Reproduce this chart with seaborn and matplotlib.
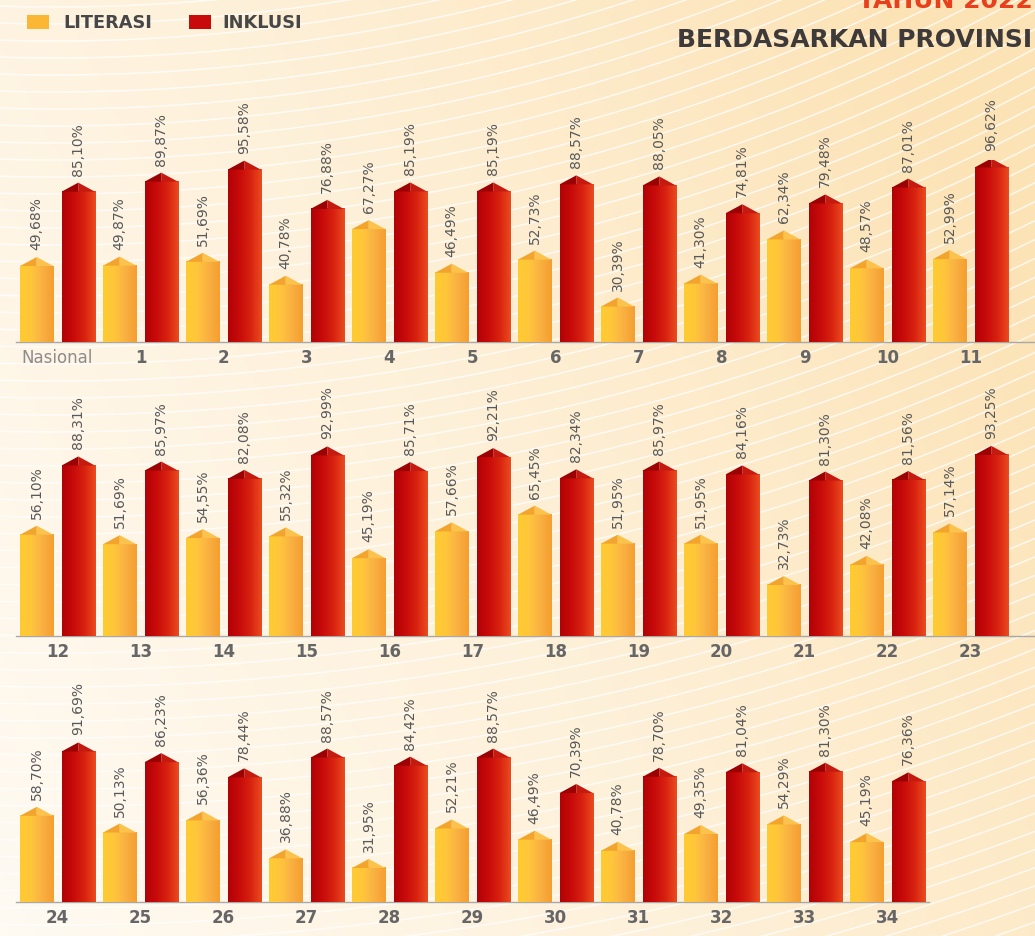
import numpy as np
import pandas as pd
import matplotlib
matplotlib.use('Agg')
import matplotlib.pyplot as plt
from matplotlib.colors import LinearSegmentedColormap
from matplotlib.patches import Polygon, Rectangle
import seaborn as sns

# data: literasi & inklusi keuangan per provinsi (Nasional + 34 provinsi)
provinsi = ['Nasional'] + [str(i) for i in range(1, 35)]
literasi = [49.68, 49.87, 51.69, 40.78, 67.27, 46.49, 52.73, 30.39, 41.30, 62.34, 48.57, 52.99,
            56.10, 51.69, 54.55, 55.32, 45.19, 57.66, 65.45, 51.95, 51.95, 32.73, 42.08, 57.14,
            58.70, 50.13, 56.36, 36.88, 31.95, 52.21, 46.49, 40.78, 49.35, 54.29, 45.19]
inklusi = [85.10, 89.87, 95.58, 76.88, 85.19, 85.19, 88.57, 88.05, 74.81, 79.48, 87.01, 96.62,
           88.31, 85.97, 82.08, 92.99, 85.71, 92.21, 82.34, 85.97, 84.16, 81.30, 81.56, 93.25,
           91.69, 86.23, 78.44, 88.57, 84.42, 88.57, 70.39, 78.70, 81.04, 81.30, 76.36]
baris = [provinsi[0:12], provinsi[12:24], provinsi[24:35]]
jenis = ['LITERASI', 'INKLUSI']

df = pd.DataFrame({'provinsi': provinsi * 2,
                   'jenis': ['LITERASI'] * len(literasi) + ['INKLUSI'] * len(inklusi),
                   'nilai': literasi + inklusi})

W, H = 1035, 937
sns.set_theme(style='white')
plt.rcParams['font.family'] = ['DejaVu Sans']

fig = plt.figure(figsize=(W / 100, H / 100), dpi=100)

# background: warm gradient with thin white arcs
bg = fig.add_axes([0, 0, 1, 1], zorder=-10)
xx, yy = np.meshgrid(np.linspace(0, 1, 200), np.linspace(0, 1, 200))
bg_cmap = LinearSegmentedColormap.from_list('bg', ['#FFFAF2', '#FEF1DA', '#FCE3B6'])
bg.imshow(0.75 * xx + 0.35 * (1 - yy), extent=[0, W, H, 0], aspect='auto', cmap=bg_cmap,
          vmin=0, vmax=1)
phi = np.linspace(-0.4, 0.8, 500)
for r in np.arange(1775, 2900, 17):
    bg.plot(55 + r * np.sin(phi), -1767 + r * np.cos(phi), color='white', lw=1.1, alpha=0.75)
bg.set_xlim(0, W)
bg.set_ylim(H, 0)
bg.axis('off')

warna = {'LITERASI': '#FBB733', 'INKLUSI': '#C80A0A'}
grad_cmap = {
    'LITERASI': LinearSegmentedColormap.from_list('lit', ['#FFCB30', '#FFC63C', '#F9B042', '#F59F30']),
    'INKLUSI': LinearSegmentedColormap.from_list('ink', ['#B00306', '#C80A0A', '#D8220F', '#EA4B1F']),
}
cap_warna = {'LITERASI': ('#F2A42C', '#FBC24C'), 'INKLUSI': ('#9A0204', '#C41A10')}

# (baseline px from top, y lower limit, px per unit)
rows = [(343, 13.5, 2.1), (637, 9.0, 2.15), (903, 14.5, 1.95)]
left_px, width_px, group_px = 16, 1019, 83.0
xmax = -0.5 + width_px / group_px
gstrip = np.linspace(0, 1, 64)[None, :]

for order, (base, ymin, ppu) in zip(baris, rows):
    hpx = (100 - ymin) * ppu
    ax = fig.add_axes([left_px / W, (H - base) / H, width_px / W, hpx / H])
    sub = df[df['provinsi'].isin(order)]
    sns.barplot(data=sub, x='provinsi', y='nilai', hue='jenis', order=order, hue_order=jenis,
                palette=warna, width=1.0, gap=0.2, saturation=1, errorbar=None,
                legend=False, ax=ax)

    cap_h = 9 / ppu
    for cont, j in zip(ax.containers, jenis):
        for bar, v in zip(cont, cont.datavalues):
            x0, w, top = bar.get_x(), bar.get_width(), bar.get_height()
            xc = x0 + w / 2
            ax.imshow(gstrip, extent=[x0, x0 + w, 0, top], aspect='auto',
                      cmap=grad_cmap[j], zorder=3, interpolation='bilinear')
            cl, cr = cap_warna[j]
            ax.add_patch(Polygon([(x0, top), (xc, top + cap_h), (xc, top)],
                                 closed=True, color=cl, lw=0, zorder=4))
            ax.add_patch(Polygon([(xc, top), (xc, top + cap_h), (x0 + w, top)],
                                 closed=True, color=cr, lw=0, zorder=4))
            ax.text(xc, top + cap_h + 8 / ppu, f'{v:.2f}%'.replace('.', ','),
                    rotation=90, ha='center', va='bottom', fontsize=10, color='#585858')

    n = len(order)
    ax.set_xlim(-0.5, xmax)
    ax.set_ylim(ymin, 100)
    ax.set_facecolor('none')
    ax.set_xlabel('')
    ax.set_ylabel('')
    ax.set_yticks([])
    ax.set_xticks(range(n))
    ax.set_xticklabels(order)
    ax.set_xticks(np.arange(-0.5, n), minor=True)
    ax.tick_params(axis='x', which='major', length=0, pad=4, labelsize=12, labelcolor='#666666')
    ax.tick_params(axis='x', which='minor', length=4, width=1, color='#9a9a9a', direction='out')
    for lbl in ax.get_xticklabels():
        lbl.set_fontweight('bold')
        if lbl.get_text() == 'Nasional':
            lbl.set_fontweight('normal')
            lbl.set_color('#8c8c8c')
    for s in ['left', 'top', 'right']:
        ax.spines[s].set_visible(False)
    ax.spines['bottom'].set_color('#a8a8a8')
    ax.spines['bottom'].set_linewidth(1)
    ax.spines['bottom'].set_bounds(-0.5, xmax if n == 12 else n - 0.5)

# legend
for xs, xt, j in [(27, 63, 'LITERASI'), (189, 222, 'INKLUSI')]:
    fig.add_artist(Rectangle((xs / W, 1 - 30 / H), 22 / W, 14 / H, transform=fig.transFigure,
                             color=warna[j], lw=0))
    fig.text(xt / W, 1 - 23 / H, j, fontsize=12.8, fontweight='bold', color='#474747',
             va='center', ha='left')

# title (cut at the top right like the source)
fig.text(858 / W, 1 - 8 / H, 'TAHUN 2022', fontsize=18, fontweight='bold', color='#E8401C',
         va='baseline', ha='left')
fig.text(677 / W, 1 - 47 / H, 'BERDASARKAN PROVINSI', fontsize=18, fontweight='bold',
         color='#3f3a3a', va='baseline', ha='left')

fig.savefig('out.png', dpi=100)
